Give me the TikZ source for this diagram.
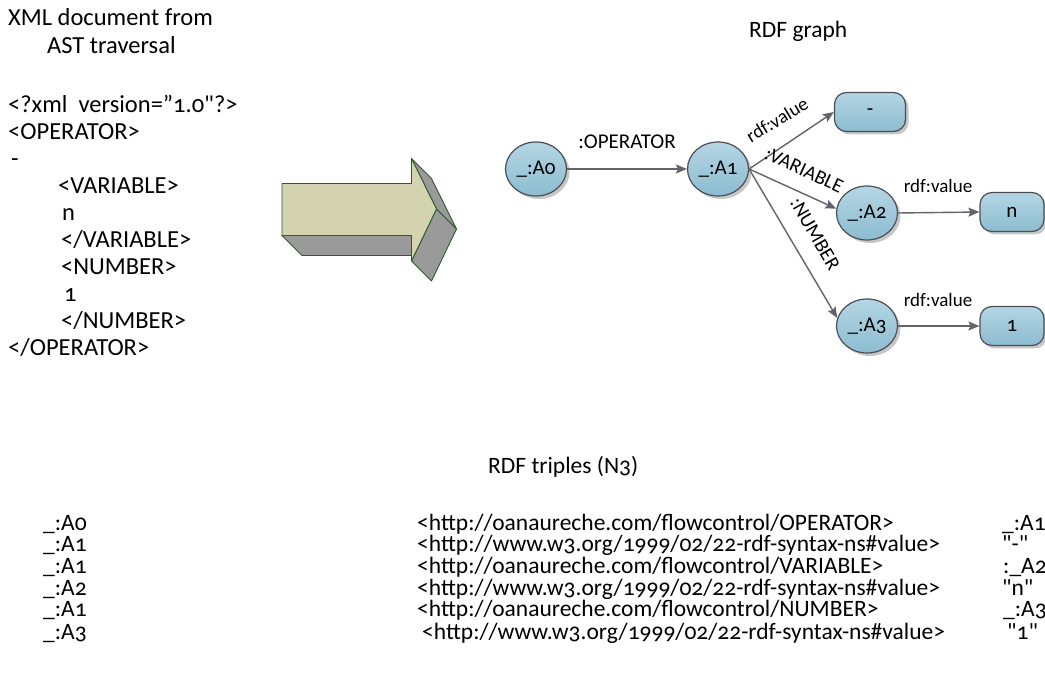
\documentclass[tikz,border=0pt]{standalone}
\usepackage{fontspec}
\setmainfont{Carlito}[Numbers=OldStyle]
% same face without the TeX quote mapping, for straight double quotes
\newfontfamily\rawquotefont{Carlito}[Numbers=OldStyle]
\usetikzlibrary{arrows.meta,shapes.geometric,shadows}
\definecolor{nodetop}{HTML}{B4D6E4}
\definecolor{nodebot}{HTML}{8CBCD0}
\definecolor{nodeedge}{HTML}{4D4D55}
\definecolor{linkgray}{HTML}{63636B}
\definecolor{khaki}{HTML}{D3D3AF}
\definecolor{sidegray}{HTML}{9A9A9A}
\definecolor{edgegreen}{HTML}{2E5B2E}
\newcommand\sq{{\rawquotefont\symbol{34}}}
\begin{document}
\begin{tikzpicture}[x=1pt,y=-1pt,
  xmltext/.style={anchor=base west, inner sep=0, font=\fontsize{24.5}{28}\selectfont},
  tabtext/.style={anchor=base west, inner sep=0, font=\fontsize{23.5}{26}\selectfont},
  heading/.style={anchor=base west, inner sep=0, font=\fontsize{23.5}{26}\selectfont},
  shadowed/.style={drop shadow={shadow xshift=3pt, shadow yshift=-3pt, fill=black!22, opacity=1}},
  res/.style={ellipse, draw=nodeedge, line width=1.2pt, top color=nodetop, bottom color=nodebot,
    minimum width=61pt, minimum height=54pt, inner sep=0, font=\fontsize{21}{23}\selectfont, shadowed},
  lit/.style={rectangle, rounded corners=12pt, draw=nodeedge, line width=1.2pt, top color=nodetop,
    bottom color=nodebot, minimum width=64pt, minimum height=39pt, inner sep=0,
    font=\fontsize{21}{23}\selectfont, shadowed},
  link/.style={draw=linkgray, line width=1.4pt, -{Stealth[length=11pt,width=9pt,inset=2pt]}},
  lbl/.style={inner sep=0, font=\fontsize{19}{21}\selectfont},
  face/.style={draw=edgegreen, line width=0.9pt, line join=round}
]
\useasboundingbox (0,0) rectangle (1045,676);

% --- XML document ---
\node[xmltext] (title1) at (8,26) {XML document from};
\node[xmltext] (title2) at (47,54) {AST traversal};
\node[xmltext] (x1) at (8,113) {<?xml\ \ version=”1.0\sq?>};
\node[xmltext] (x2) at (8,140) {<OPERATOR>};
\node[xmltext] (x3) at (11,167) {-};
\node[xmltext] (x4) at (58,194) {<VARIABLE>};
\node[xmltext] (x5) at (62,221) {n};
\node[xmltext] (x6) at (61,248) {</VARIABLE>};
\node[xmltext] (x7) at (61,275) {<NUMBER>};
\node[xmltext] (x8) at (64,302) {1};
\node[xmltext] (x9) at (61,329) {</NUMBER>};
\node[xmltext] (x10) at (8,356) {</OPERATOR>};

% --- 3D block arrow ---
\fill[face, fill=sidegray] (282,235.5) -- (411.5,235.5) -- (431.5,255.5) -- (302,255.5) -- cycle;
\fill[face, fill=sidegray] (411.5,158.5) -- (431.5,178.5) -- (456.5,229) -- (436.5,209) -- cycle;
\fill[face, fill=sidegray] (436.5,209) -- (456.5,229) -- (431.5,281) -- (411.5,261) -- cycle;
\fill[face, fill=khaki] (282,183.5) -- (411.5,183.5) -- (411.5,158.5) -- (436.5,209)
  -- (411.5,261) -- (411.5,235.5) -- (282,235.5) -- cycle;

% --- RDF graph ---
\node[heading] (gtitle) at (749,38) {RDF graph};
\node[res] (A0) at (536,169) {\_:A0};
\node[res] (A1) at (718,169) {\_:A1};
\node[lit, minimum width=71pt] (vdash) at (870,112) {-};
\node[res] (A2) at (867,213) {\_:A2};
\node[res] (A3) at (867,326) {\_:A3};
\node[lit] (vn) at (1012,212) {n};
\node[lit] (vone) at (1012,326) {1};

\draw[link] (A0.east) -- (A1.west);
\draw[link] (A1.east) -- (vdash.west);
\draw[link] (A1.east) -- (A2.172);
\draw[link] (A1.east) -- (A3.165);
\draw[link] (A2.east) -- (vn.west);
\draw[link] (A3.east) -- (vone.west);

\node[lbl, font=\fontsize{21}{23}\selectfont] (lop) at (627,142) {:OPERATOR};
\node[lbl, rotate=31] (lv1) at (777,120) {rdf:value};
\node[lbl, rotate=-25, font=\fontsize{20}{22}\selectfont] (lvar) at (804,170) {:VARIABLE};
\node[lbl, rotate=-60, font=\fontsize{20}{22}\selectfont] (lnum) at (815,234) {:NUMBER};
\node[lbl] (lv2) at (938,186) {rdf:value};
\node[lbl] (lv3) at (938,300) {rdf:value};

% --- N3 triples ---
\node[heading] (ttitle) at (488,473) {RDF triples (N3)};

\node[tabtext] (s1) at (43,530.5) {\_:A0};
\node[tabtext] (s2) at (43,551.5) {\_:A1};
\node[tabtext] (s3) at (43,573.5) {\_:A1};
\node[tabtext] (s4) at (43,595.5) {\_:A2};
\node[tabtext] (s5) at (43,616.5) {\_:A1};
\node[tabtext] (s6) at (43,639.5) {\_:A3};

\node[tabtext] (p1) at (417,530.5) {<http://oanaureche.com/flowcontrol/OPERATOR>};
\node[tabtext] (p2) at (417,551.5) {<http://www.w3.org/1999/02/22-rdf-syntax-ns\#value>};
\node[tabtext] (p3) at (417,573.5) {<http://oanaureche.com/flowcontrol/VARIABLE>};
\node[tabtext] (p4) at (417,595.5) {<http://www.w3.org/1999/02/22-rdf-syntax-ns\#value>};
\node[tabtext] (p5) at (417,616.5) {<http://oanaureche.com/flowcontrol/NUMBER>};
\node[tabtext] (p6) at (422,639.5) {<http://www.w3.org/1999/02/22-rdf-syntax-ns\#value>};

\node[tabtext] (o1) at (1002,530.5) {\_:A1};
\node[tabtext] (o2) at (1002,551.5) {\sq-\sq};
\node[tabtext] (o3) at (1003,573.5) {:\_A2};
\node[tabtext] (o4) at (1002,595.5) {\sq n\sq};
\node[tabtext] (o5) at (1003,616.5) {\_:A3};
\node[tabtext] (o6) at (1007,639.5) {\sq 1\sq};
\end{tikzpicture}
\end{document}
